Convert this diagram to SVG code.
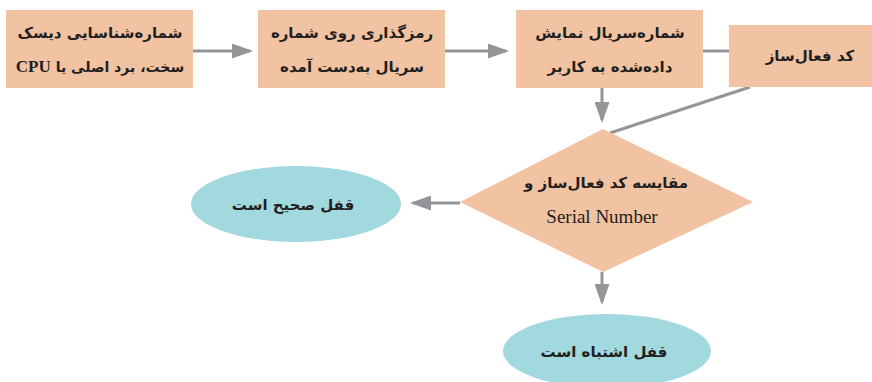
<svg xmlns="http://www.w3.org/2000/svg" width="872" height="382" viewBox="0 0 872 382">
<defs>
<style>
.box{fill:#f1c3a2}
.ell{fill:#a1d9df}
.ln{stroke:#939598;stroke-width:3;fill:none}
.fa{font-family:"DejaVu Sans",sans-serif;font-weight:bold;font-size:15px;fill:#231f20;text-anchor:middle;direction:rtl}
.sm{font-size:14px}
.en{font-family:"Liberation Serif",serif;font-size:19px;fill:#231f20;text-anchor:middle}
</style>
<marker id="ah" markerWidth="7" markerHeight="5" refX="6" refY="2.5" orient="auto" markerUnits="strokeWidth">
<path d="M0,0 L7,2.5 L0,5 Z" fill="#939598"/>
</marker>
</defs>
<g id="connectors">
<line class="ln" x1="193" y1="51" x2="250" y2="51" marker-end="url(#ah)"/>
<line class="ln" x1="445" y1="51" x2="506" y2="51" marker-end="url(#ah)"/>
<line class="ln" x1="703" y1="51" x2="729" y2="51"/>
<line class="ln" x1="602" y1="88" x2="602" y2="120" marker-end="url(#ah)"/>
<line class="ln" x1="750" y1="87" x2="610" y2="133"/>
<line class="ln" x1="460" y1="203" x2="413" y2="203" marker-end="url(#ah)"/>
<line class="ln" x1="602" y1="272" x2="602" y2="302" marker-end="url(#ah)"/>
</g>
<g id="node1">
<rect class="box" x="6" y="10" width="187" height="78"/>
<text class="fa" x="100" y="38">شماره‌شناسایی دیسک</text>
<text class="fa sm" x="100" y="72">سخت، برد اصلی یا <tspan style="font-family:'Liberation Serif',serif;font-size:17px">CPU</tspan></text>
</g>
<g id="node2">
<rect class="box" x="258" y="10" width="187" height="78"/>
<text class="fa" x="352" y="38">رمزگذاری روی شماره</text>
<text class="fa" x="352" y="72">سریال به‌دست آمده</text>
</g>
<g id="node3">
<rect class="box" x="516" y="10" width="187" height="78"/>
<text class="fa" x="610" y="38">شماره‌سریال نمایش</text>
<text class="fa" x="610" y="72">داده‌شده به کاربر</text>
</g>
<g id="node4">
<rect class="box" x="729" y="25" width="150" height="62"/>
<text class="fa" x="810" y="61">کد فعال‌ساز</text>
</g>
<g id="node5">
<polygon class="box" points="603,129 753,202 603,272 460,202"/>
<text class="fa" x="606" y="188">مقایسه کد فعال‌ساز و</text>
<text class="en" x="602" y="223">Serial Number</text>
</g>
<g id="node6">
<ellipse class="ell" cx="296" cy="204" rx="105" ry="38"/>
<text class="fa" x="293" y="210">قفل صحیح است</text>
</g>
<g id="node7">
<ellipse class="ell" cx="607" cy="351" rx="104" ry="37"/>
<text class="fa" x="604" y="357">قفل اشتباه است</text>
</g>
</svg>
